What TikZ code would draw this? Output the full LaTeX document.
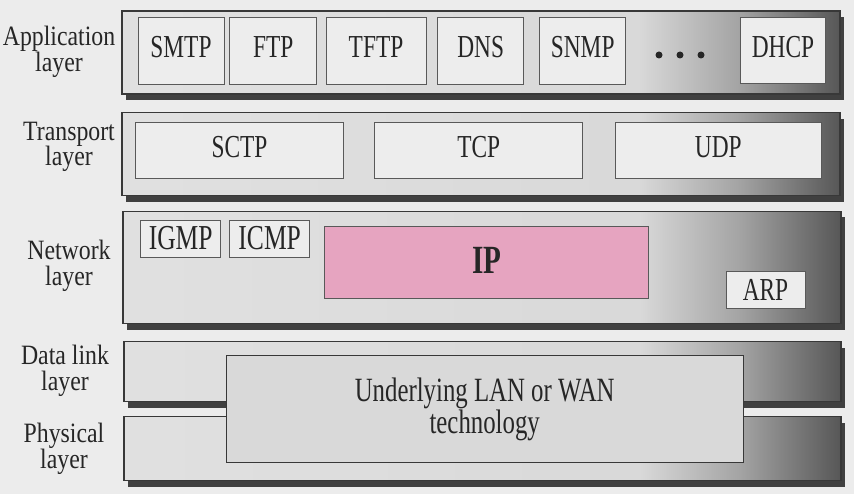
\documentclass[tikz,border=0pt]{standalone}
\usepackage{fontspec}
\setmainfont{Liberation Serif}[FakeStretch=0.73]
\newfontfamily\lblfont{Liberation Serif}[FakeStretch=0.85]
\usepackage{tikz}
\usetikzlibrary{shadows}
\usepackage{xcolor}

\definecolor{bggray}{gray}{0.925}
\definecolor{bandlight}{gray}{0.88}
\definecolor{bandmid}{gray}{0.85}
\definecolor{banddark}{gray}{0.64}
\definecolor{bandend}{gray}{0.34}
\definecolor{bandline}{gray}{0.22}
\definecolor{shadowgray}{gray}{0.25}
\definecolor{boxfill}{gray}{0.93}
\definecolor{boxline}{gray}{0.35}
\definecolor{lowfill}{gray}{0.85}
\definecolor{textgray}{gray}{0.15}
\definecolor{ippink}{RGB}{230,164,192}

\pgfdeclarehorizontalshading{bandshade}{100bp}{color(0bp)=(bandlight); color(25bp)=(bandlight); color(61bp)=(bandmid); color(68bp)=(banddark); color(75bp)=(bandend); color(100bp)=(bandend)}

\begin{document}
\begin{tikzpicture}[x=1pt,y=-1pt]
			%\draw[help lines] (0,0) grid (854,494);
			
			\tikzset{
			band/.style = {rectangle, draw=bandline, line width=1.2pt, shading=bandshade,
				drop shadow={shadow xshift=4pt, shadow yshift=-6pt, fill=shadowgray, opacity=1}},
			proto/.style = {rectangle, draw=boxline, fill=boxfill, line width=1pt, inner sep=0pt,
				text=textgray, font=\fontsize{32}{32}\selectfont, text height=21pt, text depth=8pt},
			lbl/.style = {align=center, text=textgray, font=\lblfont\fontsize{28}{25.5}\selectfont},
			ellipsisdot/.style = {circle, fill=textgray, inner sep=0pt, minimum size=7pt}
			}
			
			\useasboundingbox (0,0) rectangle (854,494);
			\fill[bggray] (0,0) rectangle (854,494);
			
			% layers
			\node[band, minimum width=718, minimum height=83] (appl) at (481,52.5) {};
			\node[band, minimum width=718, minimum height=83] (trans) at (481,154.3) {};
			\node[band, minimum width=718, minimum height=112] (net) at (482,267.5) {};
			\node[band, minimum width=717, minimum height=60] (dlink) at (482.5,371.7) {};
			\node[band, minimum width=717, minimum height=64] (phys) at (482.5,448.7) {};
			
			\node[lbl] (appl-l) at (59,52) {Application\\layer};
			\node[lbl] (trans-l) at (69,147) {Transport\\layer};
			\node[lbl] (net-l) at (69,266) {Network\\layer};
			\node[lbl] (dlink-l) at (65,371) {Data link\\layer};
			\node[lbl] (phys-l) at (64,449) {Physical\\layer};
			
			% application
			\node[proto, minimum width=86, minimum height=67] (smtp) at (181,50.7) {SMTP};
			\node[proto, minimum width=87, minimum height=67] (ftp) at (273.3,50.7) {FTP};
			\node[proto, minimum width=100, minimum height=67] (tftp) at (376,50.7) {TFTP};
			\node[proto, minimum width=86, minimum height=67] (dns) at (480.7,50.7) {DNS};
			\node[proto, minimum width=86, minimum height=67] (snmp) at (582.7,50.7) {SNMP};
			\node[proto, minimum width=85, minimum height=66] (dhcp) at (783,51) {DHCP};
			\foreach \i/\x in {1/659,2/680,3/701}
				\node[ellipsisdot] (dot\i) at (\x,55) {};
			
			% transport
			\node[proto, minimum width=208, minimum height=56] (sctp) at (239.5,150.8) {SCTP};
			\node[proto, minimum width=208, minimum height=56] (tcp) at (478.8,150.8) {TCP};
			\node[proto, minimum width=206, minimum height=56] (udp) at (718.3,150.8) {UDP};
			
			% network
			\node[proto, minimum width=80, minimum height=37, font=\fontsize{35}{35}\selectfont,
				text height=23pt, text depth=2pt] (igmp) at (180.7,239.4) {IGMP};
			\node[proto, minimum width=80, minimum height=37, font=\fontsize{35}{35}\selectfont,
				text height=23pt, text depth=2pt] (icmp) at (269.7,239.4) {ICMP};
			\node[proto, fill=ippink, minimum width=324, minimum height=72,
				font=\bfseries\fontsize{40}{40}\selectfont, text height=27pt, text depth=6pt] (ip) at (486.8,262.8) {IP};
			\node[proto, minimum width=79, minimum height=37, text depth=0pt] (arp) at (765.5,290.5) {ARP};
			
			% data link + physical
			\node[rectangle, draw=bandline, fill=lowfill, line width=1.2pt, minimum width=517, minimum height=107,
				align=center, text=textgray, font=\fontsize{34}{30}\selectfont] (lanwan) at (484.7,409.3)
				{Underlying LAN or WAN\\technology};
			
\end{tikzpicture}
\end{document}
